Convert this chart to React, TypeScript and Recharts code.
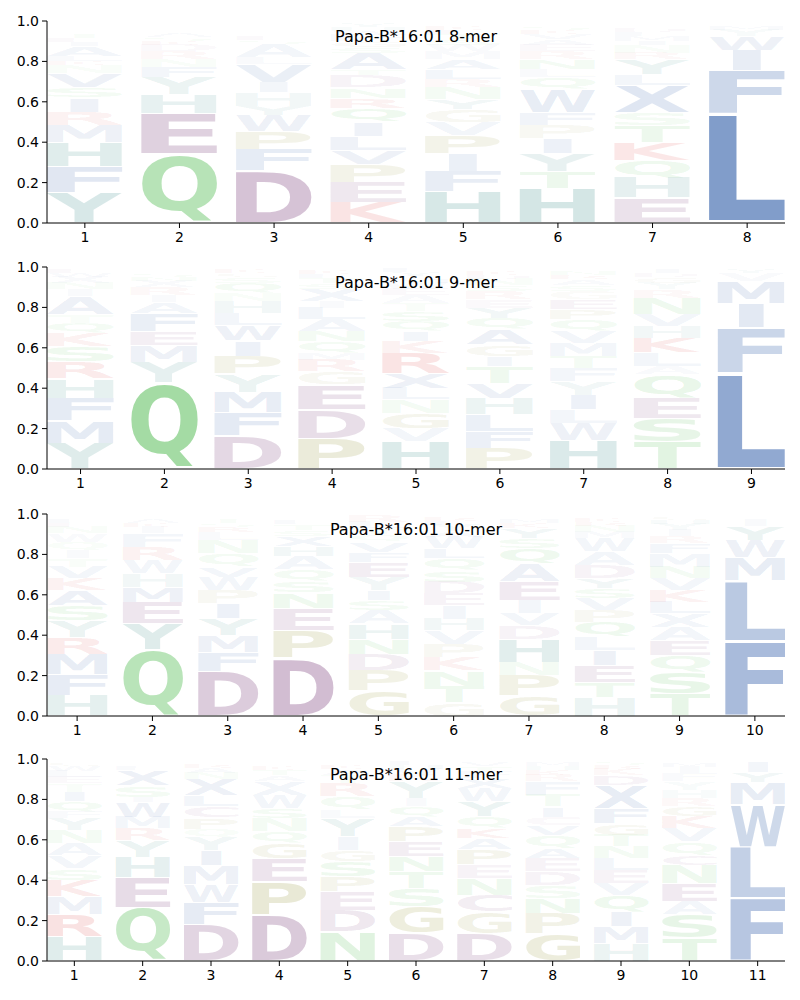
import React from 'react';
import { BarChart, Bar, XAxis, YAxis } from 'recharts';

// letters stacked bottom -> top at each position, with their heights
const mer8Letters = [
  'YFHMRISVNKLAIETGWQC',
  'QEHYFNRDKSATGV',
  'DFPWYHIVLASETGNK',
  'KEPVLIQRNDTASGFWHY',
  'HFIPVGYNRLAMWSTEKQ',
  'HTYIPFWQLNREAVKSG',
  'EHQKTSXLYRNIMFDGW',
  'LFIWYMV',
];
const mer8Heights = [
  [0.15, 0.13, 0.12, 0.085, 0.065, 0.07, 0.05, 0.07, 0.04, 0.02, 0.025, 0.05, 0.02, 0.02, 0.02, 0.015, 0.015, 0.01, 0.01],
  [0.34, 0.2, 0.095, 0.085, 0.05, 0.04, 0.04, 0.03, 0.02, 0.02, 0.02, 0.015, 0.015, 0.01],
  [0.26, 0.105, 0.09, 0.08, 0.045, 0.065, 0.05, 0.09, 0.035, 0.065, 0.02, 0.02, 0.015, 0.015, 0.01, 0.01],
  [0.1, 0.1, 0.09, 0.07, 0.07, 0.07, 0.07, 0.05, 0.05, 0.06, 0.03, 0.08, 0.03, 0.03, 0.03, 0.02, 0.02, 0.02],
  [0.157, 0.1, 0.085, 0.09, 0.065, 0.065, 0.05, 0.06, 0.04, 0.05, 0.05, 0.04, 0.03, 0.03, 0.025, 0.02, 0.02, 0.015],
  [0.17, 0.085, 0.09, 0.075, 0.065, 0.06, 0.115, 0.06, 0.04, 0.05, 0.04, 0.03, 0.03, 0.025, 0.02, 0.02, 0.015],
  [0.124, 0.1, 0.087, 0.086, 0.084, 0.065, 0.135, 0.055, 0.075, 0.03, 0.04, 0.02, 0.025, 0.02, 0.02, 0.015, 0.01],
  [0.54, 0.215, 0.1, 0.07, 0.03, 0.02, 0.015],
];

const mer9Letters = [
  'YMFHRSKQTAINXWEG',
  'QYMEFAIRXNSKH',
  'DFMYPIWLHNQSGK',
  'PDEGRMQNALIXSTFKY',
  'HVGNLXRKIQSTAEWMDYF',
  'PFLHVTIGAQYERSNDKM',
  'HWLIYFTMVQPEGSARNK',
  'TSEQALKHVNRYGDI',
  'LFIMVY',
];
const mer9Heights = [
  [0.127, 0.111, 0.112, 0.097, 0.083, 0.077, 0.067, 0.049, 0.042, 0.091, 0.033, 0.033, 0.03, 0.02, 0.02, 0.005],
  [0.43, 0.1, 0.08, 0.07, 0.09, 0.057, 0.034, 0.041, 0.03, 0.02, 0.02, 0.01, 0.01],
  [0.165, 0.115, 0.1, 0.09, 0.09, 0.075, 0.075, 0.06, 0.06, 0.04, 0.05, 0.03, 0.02, 0.02],
  [0.152, 0.141, 0.124, 0.066, 0.058, 0.034, 0.057, 0.05, 0.058, 0.058, 0.032, 0.06, 0.03, 0.025, 0.02, 0.02, 0.01],
  [0.136, 0.064, 0.076, 0.067, 0.057, 0.075, 0.1, 0.057, 0.05, 0.048, 0.05, 0.04, 0.04, 0.03, 0.03, 0.02, 0.015, 0.02, 0.02],
  [0.103, 0.082, 0.083, 0.083, 0.074, 0.083, 0.05, 0.058, 0.074, 0.058, 0.05, 0.041, 0.041, 0.03, 0.03, 0.02, 0.02, 0.015],
  [0.139, 0.088, 0.066, 0.074, 0.067, 0.066, 0.058, 0.066, 0.058, 0.058, 0.05, 0.049, 0.04, 0.03, 0.03, 0.02, 0.02, 0.01],
  [0.136, 0.116, 0.099, 0.116, 0.041, 0.067, 0.074, 0.058, 0.058, 0.083, 0.04, 0.03, 0.03, 0.02, 0.02],
  [0.475, 0.225, 0.12, 0.11, 0.04, 0.02],
];

const mer10Letters = [
  'HFMRYSAKVTIQWNELP',
  'QYEMHWRFIKAN',
  'DFMYIPWVQNLRSTG',
  'DPENSQAHXSTLK',
  'GPDNHASIYEFVQTLR',
  'GTNKPVHIEDSQLWAYFR',
  'GPNHDVIEAQSYKMR',
  'HTEILQPVSYDAWMNRKG',
  'TSQEAXLKVNMFRIYHG',
  'FLMWYIV',
];
const mer10Heights = [
  [0.103, 0.104, 0.1, 0.083, 0.083, 0.074, 0.075, 0.058, 0.058, 0.042, 0.04, 0.042, 0.042, 0.03, 0.02, 0.02, 0.015],
  [0.33, 0.126, 0.108, 0.074, 0.067, 0.066, 0.066, 0.067, 0.03, 0.02, 0.02, 0.015],
  [0.22, 0.095, 0.083, 0.083, 0.075, 0.066, 0.067, 0.05, 0.066, 0.066, 0.04, 0.025, 0.02, 0.02, 0.015],
  [0.285, 0.14, 0.11, 0.075, 0.058, 0.058, 0.066, 0.05, 0.05, 0.03, 0.03, 0.02, 0.015],
  [0.124, 0.1, 0.083, 0.074, 0.075, 0.066, 0.05, 0.05, 0.066, 0.075, 0.05, 0.05, 0.035, 0.03, 0.03, 0.03],
  [0.066, 0.083, 0.075, 0.066, 0.067, 0.066, 0.058, 0.066, 0.058, 0.058, 0.058, 0.059, 0.05, 0.057, 0.03, 0.03, 0.02, 0.02],
  [0.1, 0.1, 0.065, 0.116, 0.067, 0.058, 0.066, 0.091, 0.092, 0.075, 0.05, 0.05, 0.025, 0.02, 0.015],
  [0.091, 0.075, 0.083, 0.074, 0.067, 0.074, 0.058, 0.058, 0.05, 0.05, 0.066, 0.067, 0.066, 0.03, 0.03, 0.02, 0.02, 0.01],
  [0.108, 0.108, 0.084, 0.073, 0.067, 0.066, 0.058, 0.058, 0.058, 0.058, 0.066, 0.05, 0.035, 0.03, 0.03, 0.02, 0.02],
  [0.37, 0.3, 0.115, 0.085, 0.07, 0.03, 0.01],
];

const mer11Letters = [
  'HRMKSVANYFQITELWGP',
  'QEHYRMWISXFAN',
  'DFWMIYQPCLXNARV',
  'DPEGQNSWXATKRH',
  'NDEPSGIYLQRTAKH',
  'DGSTNEPAQIYKVHF',
  'DGCNEPAKQYWXFTV',
  'GPNSDEAQVCITFRKHM',
  'HMIQVELNTGFXDKRS',
  'TSAENCQVKGRHYFIML',
  'FLWMYI',
];
const mer11Heights = [
  [0.12, 0.108, 0.09, 0.082, 0.059, 0.061, 0.062, 0.067, 0.057, 0.033, 0.05, 0.049, 0.04, 0.03, 0.03, 0.025, 0.02, 0.005],
  [0.265, 0.15, 0.1, 0.082, 0.058, 0.057, 0.075, 0.025, 0.057, 0.075, 0.02, 0.015, 0.01],
  [0.182, 0.108, 0.09, 0.091, 0.075, 0.066, 0.041, 0.057, 0.058, 0.05, 0.082, 0.03, 0.025, 0.02, 0.015],
  [0.228, 0.165, 0.115, 0.074, 0.058, 0.066, 0.05, 0.066, 0.066, 0.03, 0.025, 0.02, 0.015, 0.01],
  [0.145, 0.107, 0.091, 0.074, 0.075, 0.058, 0.066, 0.09, 0.042, 0.066, 0.066, 0.04, 0.03, 0.02, 0.015],
  [0.137, 0.132, 0.091, 0.082, 0.075, 0.074, 0.074, 0.049, 0.05, 0.041, 0.083, 0.03, 0.03, 0.02, 0.02],
  [0.137, 0.107, 0.083, 0.082, 0.066, 0.075, 0.057, 0.05, 0.057, 0.075, 0.066, 0.05, 0.03, 0.03, 0.02],
  [0.137, 0.099, 0.074, 0.066, 0.066, 0.066, 0.05, 0.066, 0.049, 0.041, 0.05, 0.058, 0.066, 0.03, 0.025, 0.02, 0.02],
  [0.087, 0.083, 0.074, 0.083, 0.057, 0.066, 0.058, 0.058, 0.058, 0.057, 0.075, 0.115, 0.049, 0.03, 0.02, 0.02],
  [0.112, 0.116, 0.066, 0.09, 0.091, 0.05, 0.066, 0.066, 0.057, 0.05, 0.041, 0.042, 0.041, 0.04, 0.03, 0.02, 0.01],
  [0.31, 0.255, 0.21, 0.11, 0.05, 0.055],
];

const panels = [
  { title: 'Papa-B*16:01 8-mer', letters: mer8Letters, heights: mer8Heights, top: 0 },
  { title: 'Papa-B*16:01 9-mer', letters: mer9Letters, heights: mer9Heights, top: 246 },
  { title: 'Papa-B*16:01 10-mer', letters: mer10Letters, heights: mer10Heights, top: 493 },
  { title: 'Papa-B*16:01 11-mer', letters: mer11Letters, heights: mer11Heights, top: 738 },
];

const yTicks = [0, 0.2, 0.4, 0.6, 0.8, 1.0];

const letterColor: Record<string, string> = {
  A: '#4c73b4', V: '#4c73b4', L: '#4c73b4', I: '#4c73b4', M: '#4c73b4', F: '#4c73b4', W: '#4c73b4', X: '#4c73b4',
  H: '#3a8c88', Y: '#3a8c88',
  Q: '#5cbf5c', N: '#5cbf5c', S: '#5cbf5c', T: '#5cbf5c',
  G: '#9a9a40', P: '#9a9a40',
  D: '#844c84', E: '#844c84', C: '#844c84',
  K: '#d83030', R: '#d83030',
};

const FONT = 'DejaVu Sans';
const metricCache: Record<string, { l: number; r: number; a: number; d: number }> = {};
function glyphBox(ch: string) {
  if (metricCache[ch]) return metricCache[ch];
  let box = { l: -4, r: 70, a: 73, d: 0 };
  try {
    const ctx = document.createElement('canvas').getContext('2d');
    if (ctx) {
      ctx.font = `bold 100px "${FONT}"`;
      const m = ctx.measureText(ch);
      box = { l: m.actualBoundingBoxLeft, r: m.actualBoundingBoxRight, a: m.actualBoundingBoxAscent, d: m.actualBoundingBoxDescent };
    }
  } catch (e) {}
  metricCache[ch] = box;
  return box;
}

function makeLetterShape(slot: number) {
  return (props: any) => {
    const { x, y, width, height, payload } = props;
    const ch = payload[`l${slot}`];
    const frac = payload[`s${slot}`];
    if (!ch || !height || height <= 0.5) return <g />;
    const pad = height * 0.025;
    let bx = x;
    let bw = width;
    if (ch === 'I') {
      bw = width * 0.37;
      bx = x + (width - bw) / 2;
    }
    const by = y + pad;
    const bh = height - 2 * pad;
    const g = glyphBox(ch);
    const sx = bw / (g.l + g.r);
    const sy = bh / (g.a + g.d);
    const tx = bx + g.l * sx;
    const ty = by + bh - g.d * sy;
    return (
      <text
        transform={`translate(${tx},${ty}) scale(${sx},${sy})`}
        fontFamily={FONT}
        fontWeight="bold"
        fontSize={100}
        fill={letterColor[ch] || '#888'}
        fillOpacity={Math.min(1, frac * 1.3)}
      >
        {ch}
      </text>
    );
  };
}

function LogoPanel({ title, letters, heights, top }: any) {
  const n = letters.length;
  const maxLen = Math.max(...letters.map((s: string) => s.length));
  const rows = letters.map((s: string, p: number) => {
    const row: any = { pos: p + 1 };
    for (let i = 0; i < maxLen; i++) {
      row[`s${i}`] = i < s.length ? heights[p][i] : 0;
      row[`l${i}`] = s[i] || '';
    }
    return row;
  });
  const xTicks = letters.map((_: string, p: number) => p + 1);
  const unit = 738 / (n - 0.2);
  const slots = Array.from({ length: maxLen }, (_, i) => i);

  return (
    <div style={{ position: 'absolute', left: 0, top, width: 800, height: 246 }}>
      <BarChart width={800} height={246} data={rows} margin={{ top: 21, right: 15, bottom: 0, left: 0 }} barGap={0}>
        <XAxis
          dataKey="pos"
          type="number"
          domain={[0.6, n + 0.4]}
          ticks={xTicks}
          interval={0}
          allowDataOverflow
          height={23}
          tickSize={5}
          tickMargin={4}
          stroke="#000"
          tick={{ fill: '#000', fontSize: 14, fontFamily: FONT }}
        />
        <YAxis
          domain={[0, 1]}
          ticks={yTicks}
          allowDataOverflow
          width={47}
          tickSize={5}
          tickMargin={3}
          stroke="#000"
          tickFormatter={(v: number) => v.toFixed(1)}
          tick={{ fill: '#000', fontSize: 14, fontFamily: FONT }}
        />
        {slots.map((i) => (
          <Bar
            key={i}
            dataKey={`s${i}`}
            stackId="logo"
            barSize={unit * 0.8}
            isAnimationActive={false}
            shape={makeLetterShape(i)}
          />
        ))}
      </BarChart>
      <div
        style={{
          position: 'absolute',
          left: 47,
          width: 738,
          top: 28.5,
          textAlign: 'center',
          fontFamily: FONT,
          fontSize: 16,
          lineHeight: '16px',
          color: '#000',
        }}
      >
        {title}
      </div>
    </div>
  );
}

export default function App() {
  return (
    <div style={{ position: 'absolute', left: 0, top: 0, width: 800, height: 1000, background: '#fff' }}>
      {panels.map((p) => (
        <LogoPanel key={p.title} {...p} />
      ))}
    </div>
  );
}
